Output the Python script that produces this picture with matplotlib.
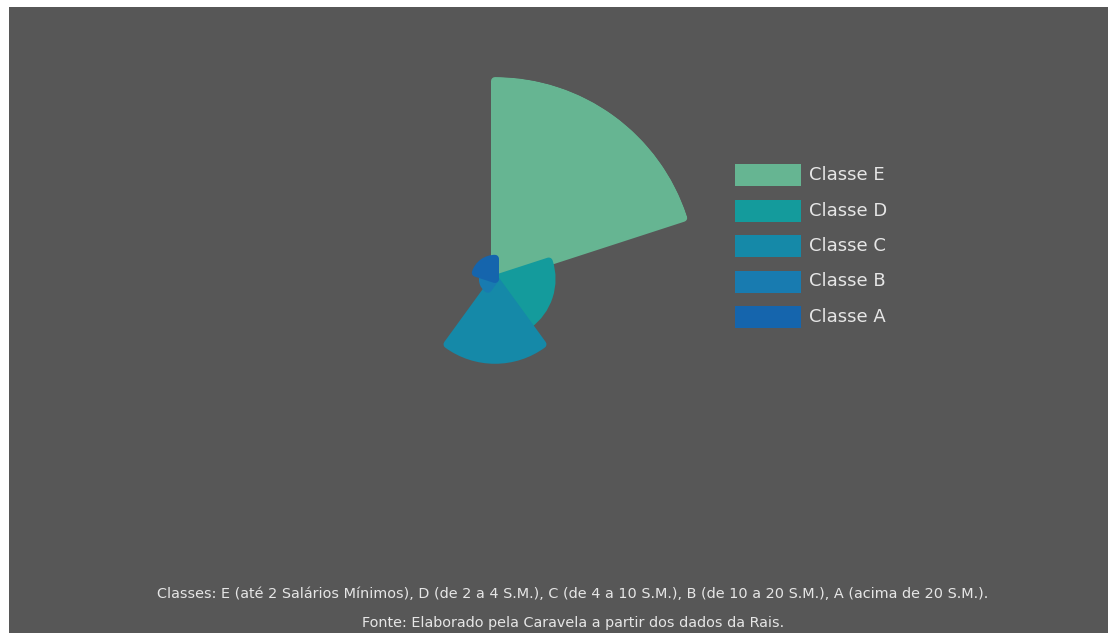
import numpy as np
import matplotlib
matplotlib.use("Agg")
import matplotlib.pyplot as plt
from matplotlib.patches import Rectangle

# radius (px-ish scale, E = largest)
classes = ["Classe E", "Classe D", "Classe C", "Classe B", "Classe A"]
values = [200, 60, 84, 16, 24]
colors = ["#66b592", "#149b9c", "#1589a8", "#187bb0", "#1565ad"]

caption1 = ("Classes: E (até 2 Salários Mínimos), D (de 2 a 4 S.M.), C (de 4 a 10 S.M.), "
            "B (de 10 a 20 S.M.), A (acima de 20 S.M.).")
caption2 = "Fonte: Elaborado pela Caravela a partir dos dados da Rais."

W, H = 1108, 633
bg = "#575757"
txt = "#e6e6e6"

plt.rcParams['font.family'] = ['DejaVu Sans']

fig = plt.figure(figsize=(W / 100, H / 100), dpi=100, facecolor="white")
fig.add_artist(Rectangle((9 / W, 0), 1 - 9 / W, 1 - 7 / H, transform=fig.transFigure,
                         facecolor=bg, edgecolor="none", zorder=0))

# polar axes centred on the rose
cx, cy, R = 495, 633 - 279, 202
ax = fig.add_axes([(cx - R) / W, (cy - R) / H, 2 * R / W, 2 * R / H], projection="polar")
ax.set_theta_zero_location("N")
ax.set_theta_direction(-1)
ax.patch.set_alpha(0)
ax.set_axis_off()

n = len(values)
width = 2 * np.pi / n
theta = np.arange(n) * width + width / 2
corner = 4  # px of rounding
rmax = max(values)
scale = rmax / (R - 3)
for t, v, c in zip(theta, values, colors):
    ax.bar(t, v - corner * scale, width=width, bottom=0, color=c, edgecolor=c,
           linewidth=corner * 2 * 0.72, joinstyle="round", zorder=2)
ax.set_ylim(0, rmax)

# legend
lx, ly, step = 735, 175, 35.5
for i, (lab, c) in enumerate(zip(classes, colors)):
    y = ly + i * step
    fig.add_artist(Rectangle((lx / W, 1 - (y + 11) / H), 66 / W, 22 / H,
                             transform=fig.transFigure, facecolor=c, edgecolor="none"))
    fig.text(809 / W, 1 - y / H, lab, color=txt, fontsize=13, va="center", ha="left")

fig.text(573 / W, 1 - 594 / H, caption1, color=txt, fontsize=10.4, ha="center", va="center")
fig.text(573 / W, 1 - 623 / H, caption2, color=txt, fontsize=10.4, ha="center", va="center")

fig.savefig("out.png", dpi=100, facecolor=fig.get_facecolor())
